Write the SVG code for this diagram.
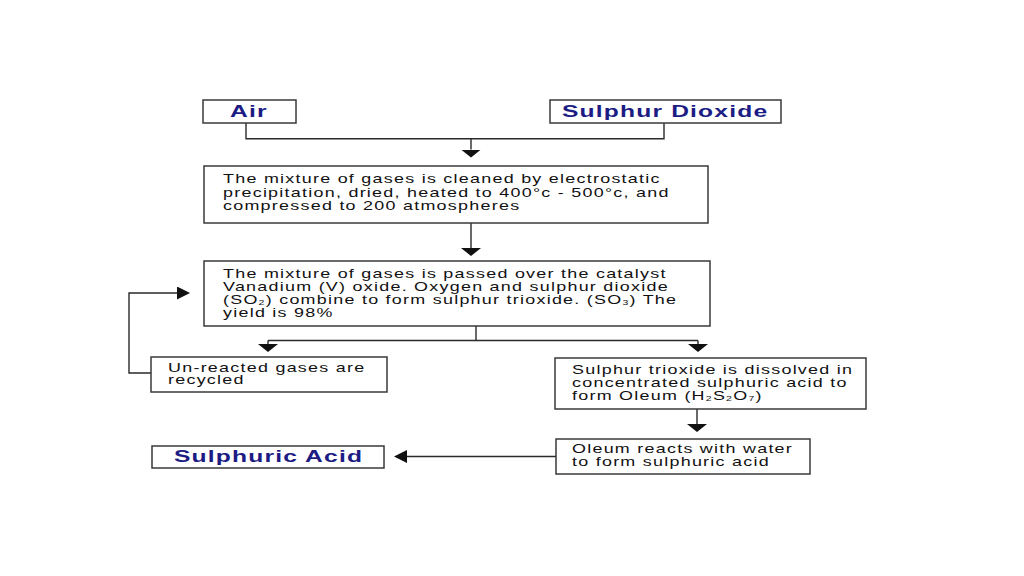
<svg xmlns="http://www.w3.org/2000/svg" width="1024" height="576" viewBox="0 0 1024 576">
<style>
.box{fill:#fff;stroke:#3a3a3a;stroke-width:1.5}
.ln{fill:none;stroke:#2a2a2a;stroke-width:1.4}
.t{font-family:"Liberation Sans",Arial,sans-serif;font-size:12.8px;fill:#111;letter-spacing:0.9px}
.h{font-family:"Liberation Sans",Arial,sans-serif;font-size:17px;font-weight:bold;fill:#1c1c84;letter-spacing:0.8px}
.s{font-size:7.5px}
</style>
<defs>
<marker id="ad" viewBox="0 0 8 20" refX="0" refY="10" markerWidth="8" markerHeight="20" markerUnits="userSpaceOnUse" orient="auto"><path d="M0,0 L8,10 L0,20 Z" fill="#111"/></marker>
<marker id="ah" viewBox="0 0 13 13" refX="0" refY="6.5" markerWidth="13" markerHeight="13" markerUnits="userSpaceOnUse" orient="auto"><path d="M0,0 L13,6.5 L0,13 Z" fill="#111"/></marker>
</defs>
<rect width="1024" height="576" fill="#fff"/>
<g id="connectors">
<path class="ln" d="M246,123 V138.7 H664 V123"/>
<path class="ln" d="M471,138.7 V149.5" marker-end="url(#ad)"/>
<path class="ln" d="M471,223 V248" marker-end="url(#ad)"/>
<path class="ln" d="M476,326 V340.5"/>
<path class="ln" d="M268,340.5 H698"/>
<path class="ln" d="M268,340.5 V344" marker-end="url(#ad)"/>
<path class="ln" d="M698,340.5 V344" marker-end="url(#ad)"/>
<path class="ln" d="M697,409 V424" marker-end="url(#ad)"/>
<path class="ln" d="M556,456.5 H407" marker-end="url(#ah)"/>
<path class="ln" d="M151,373 H129 V293 H177" marker-end="url(#ah)"/>
</g>
<g id="air">
<rect class="box" x="203" y="100" width="93" height="23"/>
<g transform="translate(230,0) scale(1.45,1)"><text class="h" x="0" y="117.5">Air</text></g>
</g>
<g id="sulphur-dioxide">
<rect class="box" x="550" y="100" width="231" height="23"/>
<g transform="translate(562,0) scale(1.45,1)"><text class="h" x="0" y="117.5">Sulphur Dioxide</text></g>
</g>
<g id="clean">
<rect class="box" x="204" y="166" width="504" height="57"/>
<g transform="translate(223,0) scale(1.4,1)">
<text class="t" x="0" y="183.5">The mixture of gases is cleaned by electrostatic</text>
<text class="t" x="0" y="196.8">precipitation, dried, heated to 400°c - 500°c, and</text>
<text class="t" x="0" y="210">compressed to 200 atmospheres</text>
</g>
</g>
<g id="catalyst">
<rect class="box" x="204" y="261" width="506" height="65"/>
<g transform="translate(223,0) scale(1.4,1)">
<text class="t" x="0" y="278.3">The mixture of gases is passed over the catalyst</text>
<text class="t" x="0" y="291">Vanadium (V) oxide. Oxygen and sulphur dioxide</text>
<text class="t" x="0" y="303.7">(SO<tspan class="s" dy="1.2">2</tspan><tspan dy="-1.2">) combine to form sulphur trioxide. (SO</tspan><tspan class="s" dy="1.2">3</tspan><tspan dy="-1.2">) The</tspan></text>
<text class="t" x="0" y="316.6">yield is 98%</text>
</g>
</g>
<g id="unreacted">
<rect class="box" x="151" y="357" width="236" height="35"/>
<g transform="translate(168,0) scale(1.4,1)">
<text class="t" x="0" y="371.7">Un-reacted gases are</text>
<text class="t" x="0" y="384.4">recycled</text>
</g>
</g>
<g id="dissolve">
<rect class="box" x="555" y="358" width="311" height="51"/>
<g transform="translate(572,0) scale(1.4,1)">
<text class="t" x="0" y="374.5">Sulphur trioxide is dissolved in</text>
<text class="t" x="0" y="387.3">concentrated sulphuric acid to</text>
<text class="t" x="0" y="400">form Oleum (H<tspan class="s" dy="1.2">2</tspan><tspan dy="-1.2">S</tspan><tspan class="s" dy="1.2">2</tspan><tspan dy="-1.2">O</tspan><tspan class="s" dy="1.2">7</tspan><tspan dy="-1.2">)</tspan></text>
</g>
</g>
<g id="oleum">
<rect class="box" x="556" y="439" width="254" height="35"/>
<g transform="translate(572,0) scale(1.4,1)">
<text class="t" x="0" y="453">Oleum reacts with water</text>
<text class="t" x="0" y="466.5">to form sulphuric acid</text>
</g>
</g>
<g id="sulphuric-acid">
<rect class="box" x="152" y="446" width="232" height="22"/>
<g transform="translate(174,0) scale(1.45,1)"><text class="h" x="0" y="462.5">Sulphuric Acid</text></g>
</g>
</svg>
